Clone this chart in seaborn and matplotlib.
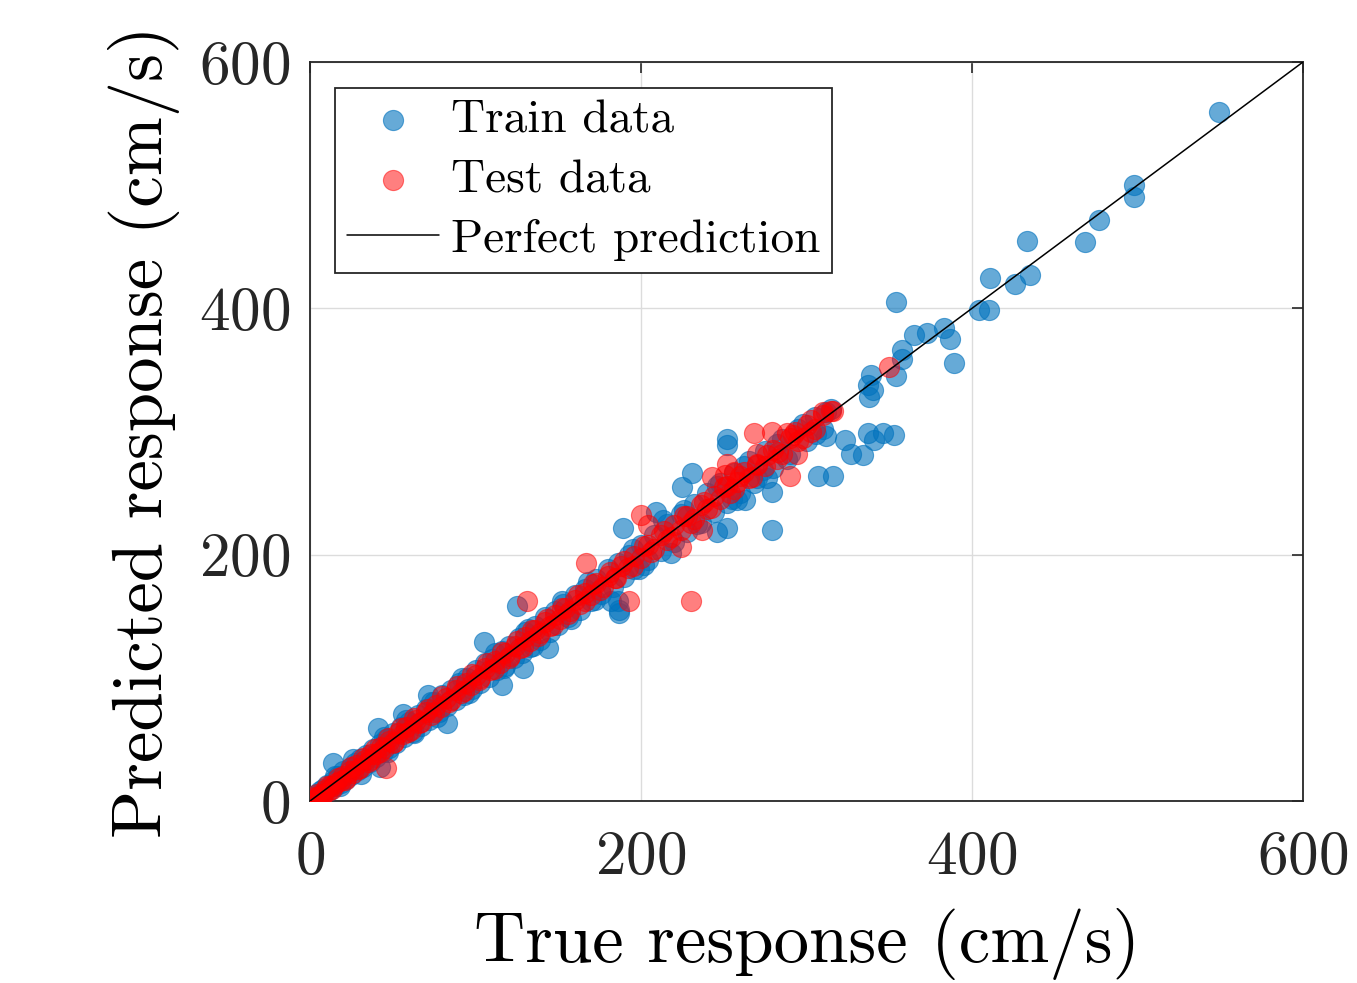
import matplotlib
matplotlib.use("Agg")
import matplotlib.pyplot as plt
import seaborn as sns
import pandas as pd

# ---------------- data ----------------
train_true = [1, 2, 3, 4, 5, 6, 7, 8, 9, 10, 12, 14, 15, 17, 19, 20, 22, 24, 25, 27, 29, 30, 32, 34, 36, 38,
              40, 42, 44, 46, 48, 50, 52, 55, 57, 60, 62, 65, 67, 70, 72, 75, 78, 80, 83, 85, 88, 90, 93, 95,
              98, 100, 103, 106, 108, 110, 113, 116, 118, 120, 123, 126, 128, 130, 133, 136, 139, 142, 145,
              148, 150, 153, 156, 160, 163, 166, 170, 173, 176, 180, 183, 186, 190, 193, 196, 200, 204, 208,
              212, 216, 220, 224, 228, 232, 236, 240, 244, 248, 252, 256, 260, 265, 270, 275, 280, 285, 290,
              295, 300, 305, 310, 315,
              15, 18, 26, 31, 45, 47, 58, 63, 73, 77, 92, 96, 112, 117, 132, 135, 152, 158, 168, 172, 195,
              202, 226, 234, 246, 255, 262, 268, 282, 288, 298, 306,
              549, 498, 498, 477, 468, 433, 435, 426, 411, 404, 410, 354, 365, 373, 383, 387, 389, 358, 358,
              354, 339, 337, 340, 338, 312, 337, 341, 346, 353, 323, 327, 334, 316, 307, 312, 279, 279, 252,
              252, 274, 276, 231, 225, 258, 246, 252, 209, 189, 218, 187, 182, 199, 105, 125, 187, 129, 116,
              144, 71, 56, 83, 41, 14, 42, 213, 263, 186]
train_pred = [1, 3, 2, 6, 4, 8, 5, 10, 7, 13, 9, 16, 12, 20, 15, 24, 18, 27, 21, 31, 25, 34, 28, 37, 32, 42,
              36, 46, 40, 50, 43, 55, 47, 60, 52, 64, 56, 70, 61, 75, 66, 80, 72, 86, 77, 90, 82, 96, 86, 100,
              91, 106, 96, 112, 101, 115, 106, 122, 110, 126, 116, 132, 120, 137, 125, 142, 131, 149, 137,
              154, 143, 160, 149, 167, 155, 172, 162, 180, 168, 188, 174, 193, 182, 200, 188, 208, 196, 216,
              203, 225, 210, 233, 218, 241, 226, 250, 235, 258, 242, 266, 250, 276, 262, 284, 270, 294, 282,
              302, 292, 312, 302, 318,
              20, 12, 34, 22, 52, 40, 66, 55, 80, 68, 100, 88, 120, 108, 140, 126, 162, 148, 178, 163, 205,
              192, 236, 225, 256, 245, 272, 258, 290, 278, 306, 298,
              559, 500, 490, 472, 454, 455, 427, 420, 425, 399, 399, 405, 378, 380, 384, 375, 356, 366, 359,
              345, 346, 338, 334, 328, 316, 299, 293, 299, 297, 293, 282, 281, 264, 264, 296, 251, 220, 294,
              289, 269, 262, 266, 255, 244, 218, 222, 235, 222, 201, 155, 162, 188, 129, 158, 153, 108, 94,
              124, 86, 71, 63, 59, 31, 28, 228, 244, 162]

test_true = [1, 2, 3, 5, 6, 8, 9, 11, 12, 14, 16, 18, 20, 22, 24, 26, 28, 30, 33, 35, 37, 40, 43, 45, 48, 50,
             53, 56, 58, 61, 64, 67, 70, 73, 76, 79, 82, 85, 88, 91, 94, 97, 100, 103, 106, 109, 112, 115,
             118, 121, 124, 127, 130, 133, 136, 139, 142, 145, 148, 151, 154, 157, 160, 163, 166, 170, 173,
             177, 180, 184, 188, 192, 196, 200, 204, 208, 212, 216, 220, 224, 228, 232, 236, 240, 244, 248,
             252, 256, 260, 265, 270, 275, 280, 285, 290, 295, 300, 305, 310, 315,
             4, 7, 10, 13, 17, 21, 25, 29, 32, 36, 39, 42, 47, 51, 55, 59, 63, 66, 71, 75, 80, 84, 89, 93,
             98, 102, 107, 111, 116, 120, 125, 129, 134, 138, 143, 147, 152, 156, 162, 166, 171, 175, 181,
             185, 190, 195, 202, 206, 214, 218, 226, 230, 238, 242, 250, 254, 262, 267, 276, 282, 292, 298,
             46, 131, 193, 230, 167, 200, 224, 237, 243, 252, 256, 258, 268, 279, 288, 293, 283, 294, 270,
             270, 290, 303, 303, 310, 316, 350, 251, 204]
test_pred = [0, 1, 3, 3, 5, 6, 9, 8, 12, 12, 15, 16, 20, 19, 24, 23, 29, 27, 33, 32, 38, 38, 44, 43, 49, 47,
             55, 54, 60, 58, 66, 64, 72, 70, 78, 76, 84, 82, 90, 88, 96, 94, 102, 100, 108, 106, 114, 112,
             120, 118, 126, 124, 133, 130, 139, 136, 145, 142, 151, 148, 157, 154, 163, 160, 169, 167, 177,
             174, 183, 181, 191, 189, 199, 197, 208, 205, 216, 212, 224, 220, 231, 229, 240, 237, 248, 245,
             256, 253, 264, 262, 274, 272, 285, 282, 295, 292, 305, 302, 313, 317,
             6, 4, 12, 10, 19, 17, 28, 26, 35, 33, 42, 40, 51, 48, 59, 56, 67, 63, 75, 72, 85, 80, 93, 89,
             103, 98, 112, 107, 121, 116, 130, 125, 139, 134, 148, 143, 157, 152, 167, 162, 176, 171, 186,
             181, 195, 191, 207, 202, 219, 214, 231, 226, 243, 238, 255, 250, 267, 263, 281, 278, 297, 295,
             27, 162, 162, 162, 193, 232, 206, 220, 263, 274, 267, 259, 299, 300, 299, 300, 283, 282, 282,
             273, 264, 309, 300, 316, 317, 352, 265, 224]

perfect_line = [0, 600]
axis_ticks = [0, 200, 400, 600]

train_df = pd.DataFrame({"true": train_true, "pred": train_pred})
test_df = pd.DataFrame({"true": test_true, "pred": test_pred})
line_df = pd.DataFrame({"true": perfect_line, "pred": perfect_line})

# ---------------- style ----------------
sns.set_style("white")
plt.rcParams["font.family"] = ["cmr10", "DejaVu Serif"]
plt.rcParams["mathtext.fontset"] = "cm"
plt.rcParams["axes.formatter.use_mathtext"] = True
plt.rcParams["axes.unicode_minus"] = False
plt.rcParams["text.color"] = "black"

fig = plt.figure(figsize=(13.57, 9.83), dpi=100)
ax = fig.add_axes([310 / 1357, 1 - 801 / 983, 993 / 1357, 739 / 983])

blue = "#0072BD"
red = "#FF0000"

sns.scatterplot(data=train_df, x="true", y="pred", ax=ax, s=210, color=blue, alpha=0.6,
                edgecolor=blue, linewidth=0.8, label="Train data", zorder=3)
sns.scatterplot(data=test_df, x="true", y="pred", ax=ax, s=210, color=red, alpha=0.5,
                edgecolor=red, linewidth=0.8, label="Test data", zorder=4)
sns.lineplot(data=line_df, x="true", y="pred", ax=ax, color="black", linewidth=1.1,
             label="Perfect prediction", zorder=5)

ax.set_xlim(0, 600)
ax.set_ylim(0, 600)
ax.set_xticks(axis_ticks)
ax.set_yticks(axis_ticks)
ax.grid(True, color="#dcdcdc", linewidth=1.0)
ax.set_axisbelow(True)

for sp in ax.spines.values():
    sp.set_visible(True)
    sp.set_color("#262626")
    sp.set_linewidth(1.3)

ax.tick_params(axis="both", which="both", direction="in", length=8, width=1.2, colors="#262626",
               labelsize=44, top=True, right=True)
ax.tick_params(axis="x", pad=21)
ax.tick_params(axis="y", pad=14)
for lab in ax.get_xticklabels() + ax.get_yticklabels():
    lab.set_color("#262626")

ax.set_xlabel("True response (cm/s)", fontsize=51, color="black", labelpad=16)
ax.set_ylabel("Predicted response (cm/s)", fontsize=51, color="black", labelpad=14)

leg = ax.legend(loc="upper left", bbox_to_anchor=(25 / 993, 1 - 26 / 739), borderaxespad=0,
                fontsize=34, frameon=True, fancybox=False, framealpha=1, edgecolor="#262626",
                handlelength=1.95, handletextpad=0.25, borderpad=0.25, labelspacing=0.37,
                markerscale=1.0)
leg.get_frame().set_linewidth(1.3)
for t in leg.get_texts():
    t.set_color("black")

fig.savefig("out.png", dpi=100)
